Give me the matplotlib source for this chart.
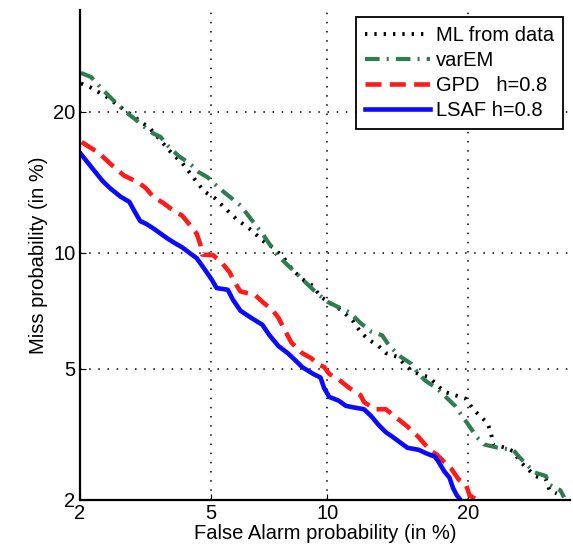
import math
import numpy as np
import matplotlib
matplotlib.use("Agg")
import matplotlib.pyplot as plt

# DET curves, values in percent
lsaf_fa = [2.01, 2.18, 2.37, 2.50, 2.70, 2.88, 3.00, 3.11, 3.23, 3.40, 3.58, 3.76, 3.95,
           4.15, 4.35, 4.56, 4.79, 5.02, 5.19, 5.57, 5.76, 6.03, 6.44, 6.89, 7.19, 7.58,
           8.00, 8.35, 8.69, 9.25, 9.63, 9.83, 10.11, 10.63, 11.05, 11.49, 12.16, 12.63,
           13.10, 13.59, 14.08, 14.60, 15.12, 15.94, 16.50, 17.21, 17.50, 17.94, 18.39,
           18.70, 19.01, 19.32]
lsaf_miss = [16.56, 15.53, 14.51, 14.01, 13.42, 13.06, 12.38, 11.83, 11.68, 11.40, 11.08,
             10.78, 10.52, 10.28, 9.98, 9.70, 9.15, 8.62, 8.19, 8.11, 7.64, 7.17, 6.87,
             6.59, 6.18, 5.78, 5.53, 5.29, 5.06, 4.84, 4.73, 4.41, 4.16, 4.06, 3.92, 3.88,
             3.83, 3.65, 3.44, 3.27, 3.16, 3.04, 2.93, 2.89, 2.82, 2.75, 2.65, 2.48, 2.36,
             2.18, 2.07, 2.00]

gpd_fa = [2.03, 2.30, 2.50, 2.77, 3.07, 3.23, 3.40, 3.67, 3.85, 4.15, 4.40, 4.56, 4.67,
          4.73, 5.08, 5.38, 5.63, 5.82, 6.03, 6.59, 6.89, 7.34, 7.58, 7.83, 8.17, 8.69,
          9.16, 9.44, 9.83, 10.11, 10.63, 11.27, 11.94, 12.16, 12.86, 13.59, 14.34, 15.12,
          15.94, 16.78, 17.36, 17.94, 18.54, 19.16, 19.79, 20.11, 20.74]
gpd_miss = [17.44, 16.61, 15.80, 14.89, 14.39, 14.01, 13.42, 12.95, 12.60, 12.16, 11.50,
            11.08, 10.47, 9.89, 9.85, 9.42, 8.97, 8.45, 8.03, 7.87, 7.56, 7.17, 6.87, 6.44,
            5.91, 5.53, 5.35, 5.17, 5.06, 4.84, 4.67, 4.41, 4.21, 4.02, 3.83, 3.83, 3.61,
            3.40, 3.16, 2.89, 2.79, 2.65, 2.52, 2.33, 2.24, 2.07, 2.00]

varem_fa = [2.02, 2.18, 2.37, 2.56, 2.77, 3.00, 3.23, 3.40, 3.58, 3.76, 4.05, 4.35, 4.62,
            4.90, 5.26, 5.63, 6.03, 6.44, 6.89, 7.19, 7.50, 7.83, 8.35, 8.87, 9.44, 10.01,
            10.63, 11.27, 11.94, 12.63, 13.34, 13.83, 14.60, 15.39, 15.94, 16.50, 17.36,
            17.94, 18.85, 19.48, 20.11, 20.74, 21.39, 22.73, 24.12, 24.84, 25.56, 26.30,
            27.42, 27.80, 28.95, 29.34]
varem_miss = [23.55, 23.15, 21.99, 21.03, 20.11, 19.34, 18.60, 18.15, 17.87, 17.16, 16.34,
              15.80, 15.14, 14.76, 14.01, 13.42, 12.83, 11.94, 11.08, 10.47, 9.89, 9.51,
              8.97, 8.45, 7.95, 7.56, 7.32, 7.10, 6.66, 6.31, 6.18, 5.78, 5.41, 5.17, 4.84,
              4.62, 4.41, 4.21, 3.92, 3.65, 3.40, 3.16, 3.00, 2.93, 2.89, 2.72, 2.58, 2.45,
              2.39, 2.24, 2.15, 2.04]

ml_fa = [2.02, 2.18, 2.43, 2.70, 3.00, 3.32, 3.58, 3.85, 4.15, 4.46, 4.79, 5.14, 5.50,
         5.89, 6.44, 6.89, 7.34, 7.83, 8.17, 8.69, 9.25, 9.63, 10.21, 10.84, 11.49, 11.94,
         12.40, 13.10, 13.59, 14.34, 14.86, 15.39, 15.94, 16.78, 17.36, 17.94, 18.85,
         19.79, 20.42, 21.06, 21.72, 22.05, 22.22, 23.42, 24.12, 24.84, 25.56, 26.30,
         27.42, 27.80, 28.56]
ml_miss = [22.55, 22.15, 21.35, 20.41, 19.49, 18.60, 17.58, 16.61, 15.80, 14.76, 13.77,
           13.30, 12.60, 11.94, 11.29, 10.68, 10.28, 9.70, 9.15, 8.62, 8.28, 7.79, 7.48,
           7.17, 6.73, 6.31, 6.04, 5.78, 5.53, 5.41, 5.17, 4.95, 4.84, 4.73, 4.51, 4.31,
           4.21, 4.11, 3.83, 3.65, 3.48, 3.23, 3.00, 2.93, 2.86, 2.65, 2.52, 2.39, 2.33,
           2.15, 2.10]

ticks = [2, 5, 10, 20]
lims = (2, 30)


def norm_ppf(p):
    # Acklam's rational approximation of the inverse normal cdf
    p = np.clip(np.asarray(p, dtype=float), 1e-12, 1 - 1e-12)
    a = [-3.969683028665376e+01, 2.209460984245205e+02, -2.759285104469687e+02,
         1.383577518672690e+02, -3.066479806614716e+01, 2.506628277459239e+00]
    b = [-5.447609879822406e+01, 1.615858368580409e+02, -1.556989798598866e+02,
         6.680131188771972e+01, -1.328068155288572e+01]
    c = [-7.784894002430293e-03, -3.223964580411365e-01, -2.400758277161838e+00,
         -2.549732539343734e+00, 4.374664141464968e+00, 2.938163982698783e+00]
    d = [7.784695709041462e-03, 3.224671290700398e-01, 2.445134137142996e+00,
         3.754408661907416e+00]
    plow = 0.02425
    out = np.empty_like(p)
    lo = p < plow
    hi = p > 1 - plow
    mid = ~(lo | hi)
    q = np.sqrt(-2 * np.log(p[lo]))
    out[lo] = (((((c[0]*q+c[1])*q+c[2])*q+c[3])*q+c[4])*q+c[5]) / \
              ((((d[0]*q+d[1])*q+d[2])*q+d[3])*q+1)
    q = np.sqrt(-2 * np.log(1 - p[hi]))
    out[hi] = -(((((c[0]*q+c[1])*q+c[2])*q+c[3])*q+c[4])*q+c[5]) / \
               ((((d[0]*q+d[1])*q+d[2])*q+d[3])*q+1)
    q = p[mid] - 0.5
    r = q * q
    out[mid] = (((((a[0]*r+a[1])*r+a[2])*r+a[3])*r+a[4])*r+a[5])*q / \
               (((((b[0]*r+b[1])*r+b[2])*r+b[3])*r+b[4])*r+1)
    return out


_erf = np.vectorize(math.erf)


def fwd(pct):
    return norm_ppf(np.asarray(pct, dtype=float) / 100.0)


def inv(z):
    return 50.0 * (1 + _erf(np.asarray(z, dtype=float) / math.sqrt(2)))


plt.rcParams['font.family'] = ['Liberation Sans', 'DejaVu Sans']

fig = plt.figure(figsize=(5.73, 5.53), dpi=100)
ax = fig.add_axes([0.139, 0.096, 0.856, 0.886])
ax.set_xscale('function', functions=(fwd, inv))
ax.set_yscale('function', functions=(fwd, inv))

ax.plot(ml_fa, ml_miss, color='black', linestyle=(0, (0.6, 1.8)), lw=2.8, label='ML from data')
ax.plot(varem_fa, varem_miss, color='#2e7d50', linestyle=(0, (3.5, 1.7, 0.5, 1.7)), lw=3.0, label='varEM')
ax.plot(gpd_fa, gpd_miss, color='#ff1a1a', linestyle=(0, (3.5, 1.8)), lw=3.3, label='GPD   h=0.8')
ax.plot(lsaf_fa, lsaf_miss, color='#0a0aff', linestyle='-', lw=3.3, label='LSAF h=0.8')

ax.set_xlim(*lims)
ax.set_ylim(*lims)
ax.set_xticks(ticks)
ax.set_xticklabels([str(t) for t in ticks])
ax.set_yticks(ticks)
ax.set_yticklabels([str(t) for t in ticks])
ax.minorticks_off()
ax.tick_params(direction='in', labelsize=14.5, length=4, pad=3)
ax.grid(True, color='black', linestyle=(0, (1, 5)), lw=1.1)

for s in ['top', 'right']:
    ax.spines[s].set_visible(False)
for s in ['left', 'bottom']:
    ax.spines[s].set_linewidth(1.6)

ax.set_xlabel('False Alarm probability (in %)', fontsize=14.5, labelpad=1)
ax.set_ylabel('Miss probability (in %)', fontsize=14.5, labelpad=4)

leg = ax.legend(loc='upper right', fontsize=14.5, handlelength=3.2, framealpha=1,
                fancybox=False, edgecolor='black', borderpad=0.45, labelspacing=0.3,
                handletextpad=0.3, borderaxespad=0.35)
leg.get_frame().set_linewidth(1.3)

plt.savefig('out.png', dpi=100)
